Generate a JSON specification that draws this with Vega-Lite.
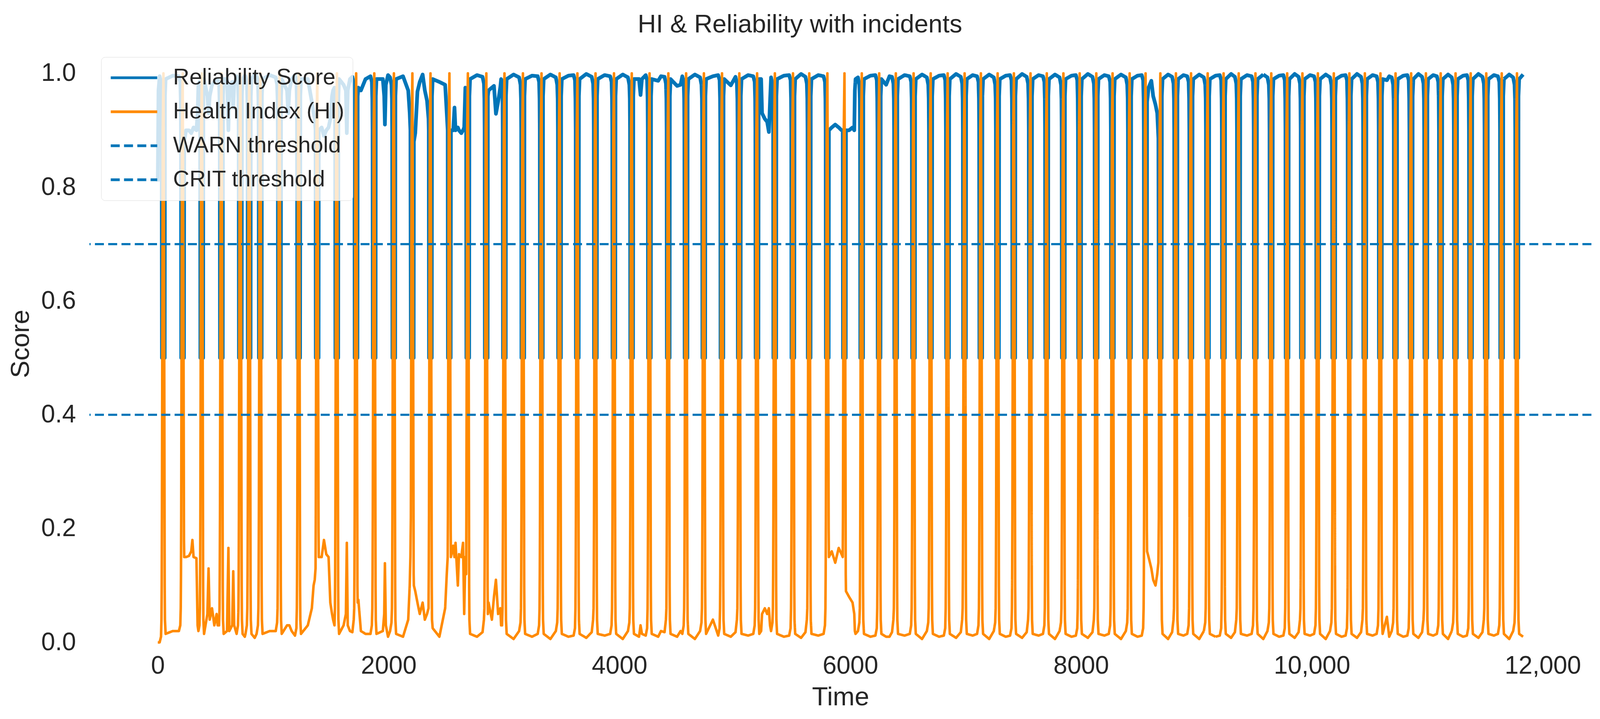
{
"$schema":"https://vega.github.io/schema/vega-lite/v6.json",
"width":4096,"height":1840,
"autosize":{"type":"fit","contains":"padding"},
"padding":{"left":19,"top":31,"right":19,"bottom":23},
"background":"white",
"title":{"text":"HI & Reliability with incidents","fontSize":65,"font":"Liberation Sans","fontWeight":"normal","color":"#262626","anchor":"middle","frame":"bounds","offset":18},
"config":{
"view":{"stroke":null},
"axis":{"grid":false,"ticks":false,"domain":false,"labelFont":"Liberation Sans","labelFontSize":64,"labelColor":"#262626","labelLimit":600,"titleFont":"Liberation Sans","titleFontSize":67,"titleFontWeight":"normal","titleColor":"#262626"},
"legend":{"orient":"none","legendX":30,"legendY":31,"title":null,"labelFont":"Liberation Sans","labelFontSize":58,"labelColor":"#262626","labelLimit":1200,"symbolType":"stroke","symbolSize":14161,"symbolStrokeWidth":7,"fillColor":"rgba(255,255,255,0.8)","strokeColor":"#dcdcdc","cornerRadius":10,"padding":21,"clipHeight":64,"rowPadding":23,"labelOffset":37,"symbolOpacity":1}
},
"data":{"values":[
{"t":0,"r":0.81,"h":0},{"t":6,"r":0.97,"h":0},{"t":16,"r":0.995,"h":0},{"t":28,"r":0.985,"h":0.01},{"t":32,"r":0.955,"h":0.04},{"t":34,"r":0.9,"h":0.1},{"t":36,"r":0.5,"h":0.22},{"t":43,"r":0.5,"h":0.9},{"t":49,"r":0.5,"h":1},{"t":54,"r":0.5,"h":0.7},{"t":60,"r":0.5,"h":0.1},{"t":62,"r":0.96,"h":0.04},{"t":68,"r":0.99,"h":0.015},{"t":130,"r":0.996,"h":0.02},
{"t":183,"r":0.995,"h":0.02},{"t":195,"r":0.985,"h":0.03},{"t":199,"r":0.955,"h":0.06},{"t":201,"r":0.9,"h":0.12},{"t":203,"r":0.5,"h":0.22},{"t":210,"r":0.5,"h":0.9},{"t":216,"r":0.5,"h":1},{"t":221,"r":0.5,"h":0.7},{"t":227,"r":0.5,"h":0.18},{"t":229,"r":0.88,"h":0.15},{"t":245,"r":0.9,"h":0.15},{"t":270,"r":0.9,"h":0.152},{"t":290,"r":0.895,"h":0.16},{"t":300,"r":0.9,"h":0.18},{"t":310,"r":0.905,"h":0.15},{"t":335,"r":0.9,"h":0.148},{"t":345,"r":0.93,"h":0.03},{"t":352,"r":0.98,"h":0.02},{"t":361,"r":0.985,"h":0.03},{"t":365,"r":0.955,"h":0.06},{"t":367,"r":0.9,"h":0.12},
{"t":369,"r":0.5,"h":0.22},{"t":376,"r":0.5,"h":0.9},{"t":382,"r":0.5,"h":1},{"t":387,"r":0.5,"h":0.7},{"t":393,"r":0.5,"h":0.1},{"t":395,"r":0.96,"h":0.04},{"t":401,"r":0.99,"h":0.015},{"t":430,"r":0.96,"h":0.05},{"t":440,"r":0.93,"h":0.13},{"t":450,"r":0.96,"h":0.04},{"t":470,"r":0.98,"h":0.06},{"t":490,"r":0.985,"h":0.03},{"t":510,"r":0.99,"h":0.05},
{"t":519,"r":0.99,"h":0.03},{"t":531,"r":0.985,"h":0.03},{"t":535,"r":0.955,"h":0.06},{"t":537,"r":0.9,"h":0.12},{"t":539,"r":0.5,"h":0.22},{"t":546,"r":0.5,"h":0.9},{"t":552,"r":0.5,"h":1},{"t":557,"r":0.5,"h":0.7},{"t":563,"r":0.5,"h":0.1},{"t":565,"r":0.96,"h":0.04},{"t":571,"r":0.99,"h":0.015},{"t":600,"r":0.99,"h":0.02},{"t":612,"r":0.9,"h":0.166},{"t":620,"r":0.98,"h":0.02},{"t":645,"r":0.985,"h":0.03},{"t":654,"r":0.94,"h":0.125},{"t":662,"r":0.98,"h":0.03},
{"t":683,"r":0.995,"h":0.015},{"t":695,"r":0.985,"h":0.03},{"t":699,"r":0.955,"h":0.06},{"t":701,"r":0.9,"h":0.12},{"t":703,"r":0.5,"h":0.22},{"t":710,"r":0.5,"h":0.9},{"t":716,"r":0.5,"h":1},{"t":721,"r":0.5,"h":0.7},{"t":727,"r":0.5,"h":0.1},{"t":729,"r":0.96,"h":0.04},{"t":735,"r":0.99,"h":0.015},{"t":754,"r":0.996,"h":0.01},
{"t":760,"r":0.995,"h":0.015},{"t":772,"r":0.985,"h":0.03},{"t":776,"r":0.955,"h":0.06},{"t":778,"r":0.9,"h":0.12},{"t":780,"r":0.5,"h":0.22},{"t":787,"r":0.5,"h":0.9},{"t":793,"r":0.5,"h":1},{"t":798,"r":0.5,"h":0.7},{"t":804,"r":0.5,"h":0.1},{"t":806,"r":0.96,"h":0.04},{"t":812,"r":0.99,"h":0.015},{"t":840,"r":0.998,"h":0.008},
{"t":856,"r":0.995,"h":0.015},{"t":868,"r":0.985,"h":0.03},{"t":872,"r":0.955,"h":0.06},{"t":874,"r":0.9,"h":0.12},{"t":876,"r":0.5,"h":0.22},{"t":883,"r":0.5,"h":0.9},{"t":889,"r":0.5,"h":1},{"t":894,"r":0.5,"h":0.7},{"t":900,"r":0.5,"h":0.1},{"t":902,"r":0.96,"h":0.04},{"t":908,"r":0.99,"h":0.015},{"t":970,"r":0.997,"h":0.02},
{"t":1022,"r":0.993,"h":0.02},{"t":1034,"r":0.98,"h":0.035},{"t":1038,"r":0.955,"h":0.06},{"t":1040,"r":0.9,"h":0.12},{"t":1042,"r":0.5,"h":0.22},{"t":1049,"r":0.5,"h":0.9},{"t":1055,"r":0.5,"h":1},{"t":1060,"r":0.5,"h":0.7},{"t":1066,"r":0.5,"h":0.1},{"t":1068,"r":0.96,"h":0.04},{"t":1074,"r":0.99,"h":0.015},{"t":1120,"r":0.97,"h":0.03},{"t":1130,"r":0.93,"h":0.03},{"t":1140,"r":0.97,"h":0.03},{"t":1160,"r":0.99,"h":0.02},
{"t":1189,"r":0.997,"h":0.012},{"t":1201,"r":0.988,"h":0.025},{"t":1205,"r":0.955,"h":0.06},{"t":1207,"r":0.9,"h":0.12},{"t":1209,"r":0.5,"h":0.22},{"t":1216,"r":0.5,"h":0.9},{"t":1222,"r":0.5,"h":1},{"t":1227,"r":0.5,"h":0.7},{"t":1233,"r":0.5,"h":0.1},{"t":1235,"r":0.96,"h":0.04},{"t":1241,"r":0.99,"h":0.015},{"t":1300,"r":0.99,"h":0.03},{"t":1335,"r":0.95,"h":0.06},{"t":1350,"r":0.93,"h":0.1},
{"t":1360,"r":0.92,"h":0.11},{"t":1367,"r":0.9,"h":0.13},{"t":1369,"r":0.5,"h":0.22},{"t":1376,"r":0.5,"h":0.9},{"t":1382,"r":0.5,"h":1},{"t":1387,"r":0.5,"h":0.7},{"t":1393,"r":0.5,"h":0.2},{"t":1395,"r":0.9,"h":0.15},{"t":1420,"r":0.905,"h":0.15},{"t":1440,"r":0.89,"h":0.18},{"t":1460,"r":0.9,"h":0.155},{"t":1480,"r":0.905,"h":0.15},{"t":1495,"r":0.92,"h":0.07},{"t":1510,"r":0.96,"h":0.05},
{"t":1519,"r":0.97,"h":0.04},{"t":1531,"r":0.975,"h":0.03},{"t":1535,"r":0.955,"h":0.06},{"t":1537,"r":0.9,"h":0.12},{"t":1539,"r":0.5,"h":0.22},{"t":1546,"r":0.5,"h":0.9},{"t":1552,"r":0.5,"h":1},{"t":1557,"r":0.5,"h":0.7},{"t":1563,"r":0.5,"h":0.1},{"t":1565,"r":0.96,"h":0.04},{"t":1571,"r":0.99,"h":0.015},{"t":1610,"r":0.98,"h":0.03},{"t":1630,"r":0.97,"h":0.05},{"t":1638,"r":0.895,"h":0.175},{"t":1646,"r":0.97,"h":0.03},{"t":1665,"r":0.99,"h":0.02},
{"t":1686,"r":0.994,"h":0.018},{"t":1698,"r":0.982,"h":0.04},{"t":1702,"r":0.955,"h":0.06},{"t":1704,"r":0.9,"h":0.12},{"t":1706,"r":0.5,"h":0.22},{"t":1713,"r":0.5,"h":0.9},{"t":1719,"r":0.5,"h":1},{"t":1724,"r":0.5,"h":0.7},{"t":1730,"r":0.5,"h":0.1},{"t":1732,"r":0.96,"h":0.07},{"t":1738,"r":0.975,"h":0.075},{"t":1760,"r":0.97,"h":0.02},{"t":1800,"r":0.99,"h":0.015},
{"t":1843,"r":0.995,"h":0.015},{"t":1855,"r":0.985,"h":0.03},{"t":1859,"r":0.955,"h":0.06},{"t":1861,"r":0.9,"h":0.12},{"t":1863,"r":0.5,"h":0.22},{"t":1870,"r":0.5,"h":0.9},{"t":1876,"r":0.5,"h":1},{"t":1881,"r":0.5,"h":0.7},{"t":1887,"r":0.5,"h":0.1},{"t":1889,"r":0.96,"h":0.04},{"t":1895,"r":0.99,"h":0.015},{"t":1950,"r":0.99,"h":0.02},{"t":1962,"r":0.96,"h":0.05},{"t":1968,"r":0.91,"h":0.139},{"t":1976,"r":0.98,"h":0.03},{"t":1995,"r":0.997,"h":0.01},
{"t":2013,"r":0.993,"h":0.02},{"t":2025,"r":0.98,"h":0.035},{"t":2029,"r":0.955,"h":0.06},{"t":2031,"r":0.9,"h":0.12},{"t":2033,"r":0.5,"h":0.22},{"t":2040,"r":0.5,"h":0.9},{"t":2046,"r":0.5,"h":1},{"t":2051,"r":0.5,"h":0.7},{"t":2057,"r":0.5,"h":0.1},{"t":2059,"r":0.96,"h":0.04},{"t":2065,"r":0.99,"h":0.015},{"t":2125,"r":0.995,"h":0.01},{"t":2170,"r":0.97,"h":0.04},{"t":2183,"r":0.93,"h":0.1},
{"t":2189,"r":0.9,"h":0.15},{"t":2193,"r":0.5,"h":0.22},{"t":2200,"r":0.5,"h":0.9},{"t":2206,"r":0.5,"h":1},{"t":2211,"r":0.5,"h":0.7},{"t":2217,"r":0.5,"h":0.12},{"t":2219,"r":0.88,"h":0.1},{"t":2231,"r":0.895,"h":0.09},{"t":2250,"r":0.968,"h":0.07},{"t":2270,"r":0.985,"h":0.05},{"t":2295,"r":0.998,"h":0.07},{"t":2314,"r":0.97,"h":0.04},{"t":2333,"r":0.952,"h":0.05},{"t":2346,"r":0.92,"h":0.06},{"t":2348,"r":0.9,"h":0.12},
{"t":2350,"r":0.5,"h":0.22},{"t":2357,"r":0.5,"h":0.9},{"t":2363,"r":0.5,"h":1},{"t":2368,"r":0.5,"h":0.7},{"t":2374,"r":0.5,"h":0.1},{"t":2376,"r":0.96,"h":0.04},{"t":2382,"r":0.99,"h":0.025},{"t":2440,"r":0.985,"h":0.01},{"t":2490,"r":0.98,"h":0.06},{"t":2504,"r":0.93,"h":0.12},{"t":2512,"r":0.9,"h":0.15},
{"t":2514,"r":0.5,"h":0.22},{"t":2521,"r":0.5,"h":0.9},{"t":2527,"r":0.5,"h":1},{"t":2532,"r":0.5,"h":0.7},{"t":2538,"r":0.5,"h":0.2},{"t":2540,"r":0.9,"h":0.15},{"t":2560,"r":0.9,"h":0.17},{"t":2571,"r":0.94,"h":0.15},{"t":2580,"r":0.9,"h":0.175},{"t":2600,"r":0.905,"h":0.1},{"t":2610,"r":0.9,"h":0.155},{"t":2630,"r":0.895,"h":0.15},{"t":2645,"r":0.9,"h":0.175},{"t":2655,"r":0.905,"h":0.05},{"t":2665,"r":0.975,"h":0.15},{"t":2672,"r":0.9,"h":0.12},
{"t":2674,"r":0.5,"h":0.22},{"t":2681,"r":0.5,"h":0.9},{"t":2687,"r":0.5,"h":1},{"t":2692,"r":0.5,"h":0.7},{"t":2698,"r":0.5,"h":0.1},{"t":2700,"r":0.96,"h":0.04},{"t":2706,"r":0.99,"h":0.015},{"t":2766,"r":0.997,"h":0.01},
{"t":2814,"r":0.994,"h":0.018},{"t":2826,"r":0.982,"h":0.04},{"t":2830,"r":0.955,"h":0.06},{"t":2832,"r":0.9,"h":0.12},{"t":2834,"r":0.5,"h":0.22},{"t":2841,"r":0.5,"h":0.9},{"t":2847,"r":0.5,"h":1},{"t":2852,"r":0.5,"h":0.7},{"t":2858,"r":0.5,"h":0.1},{"t":2860,"r":0.96,"h":0.05},{"t":2866,"r":0.97,"h":0.07},{"t":2895,"r":0.975,"h":0.04},{"t":2913,"r":0.978,"h":0.08},{"t":2930,"r":0.929,"h":0.11},{"t":2949,"r":0.95,"h":0.05},{"t":2968,"r":0.976,"h":0.06},
{"t":2975,"r":0.99,"h":0.03},{"t":2983,"r":0.985,"h":0.03},{"t":2987,"r":0.955,"h":0.06},{"t":2989,"r":0.9,"h":0.12},{"t":2991,"r":0.5,"h":0.22},{"t":2998,"r":0.5,"h":0.9},{"t":3004,"r":0.5,"h":1},{"t":3009,"r":0.5,"h":0.7},{"t":3015,"r":0.5,"h":0.1},{"t":3017,"r":0.96,"h":0.04},{"t":3023,"r":0.99,"h":0.015},{"t":3083,"r":0.998,"h":0.006},
{"t":3131,"r":0.993,"h":0.02},{"t":3143,"r":0.98,"h":0.035},{"t":3147,"r":0.955,"h":0.06},{"t":3149,"r":0.9,"h":0.12},{"t":3151,"r":0.5,"h":0.22},{"t":3158,"r":0.5,"h":0.9},{"t":3164,"r":0.5,"h":1},{"t":3169,"r":0.5,"h":0.7},{"t":3175,"r":0.5,"h":0.1},{"t":3177,"r":0.96,"h":0.04},{"t":3183,"r":0.99,"h":0.015},{"t":3243,"r":0.996,"h":0.01},
{"t":3292,"r":0.995,"h":0.015},{"t":3304,"r":0.985,"h":0.03},{"t":3308,"r":0.955,"h":0.06},{"t":3310,"r":0.9,"h":0.12},{"t":3312,"r":0.5,"h":0.22},{"t":3319,"r":0.5,"h":0.9},{"t":3325,"r":0.5,"h":1},{"t":3330,"r":0.5,"h":0.7},{"t":3336,"r":0.5,"h":0.1},{"t":3338,"r":0.96,"h":0.04},{"t":3344,"r":0.99,"h":0.015},{"t":3402,"r":0.998,"h":0.006},
{"t":3449,"r":0.993,"h":0.02},{"t":3461,"r":0.98,"h":0.035},{"t":3465,"r":0.955,"h":0.06},{"t":3467,"r":0.9,"h":0.12},{"t":3469,"r":0.5,"h":0.22},{"t":3476,"r":0.5,"h":0.9},{"t":3482,"r":0.5,"h":1},{"t":3487,"r":0.5,"h":0.7},{"t":3493,"r":0.5,"h":0.1},{"t":3495,"r":0.96,"h":0.04},{"t":3501,"r":0.99,"h":0.015},{"t":3558,"r":0.996,"h":0.01},
{"t":3603,"r":0.997,"h":0.012},{"t":3615,"r":0.988,"h":0.025},{"t":3619,"r":0.955,"h":0.06},{"t":3621,"r":0.9,"h":0.12},{"t":3623,"r":0.5,"h":0.22},{"t":3630,"r":0.5,"h":0.9},{"t":3636,"r":0.5,"h":1},{"t":3641,"r":0.5,"h":0.7},{"t":3647,"r":0.5,"h":0.1},{"t":3649,"r":0.96,"h":0.04},{"t":3655,"r":0.99,"h":0.015},{"t":3713,"r":0.999,"h":0.008},
{"t":3760,"r":0.994,"h":0.018},{"t":3772,"r":0.982,"h":0.04},{"t":3776,"r":0.955,"h":0.06},{"t":3778,"r":0.9,"h":0.12},{"t":3780,"r":0.5,"h":0.22},{"t":3787,"r":0.5,"h":0.9},{"t":3793,"r":0.5,"h":1},{"t":3798,"r":0.5,"h":0.7},{"t":3804,"r":0.5,"h":0.1},{"t":3806,"r":0.96,"h":0.04},{"t":3812,"r":0.99,"h":0.015},{"t":3872,"r":0.997,"h":0.012},
{"t":3920,"r":0.995,"h":0.015},{"t":3932,"r":0.985,"h":0.03},{"t":3936,"r":0.955,"h":0.06},{"t":3938,"r":0.9,"h":0.12},{"t":3940,"r":0.5,"h":0.22},{"t":3947,"r":0.5,"h":0.9},{"t":3953,"r":0.5,"h":1},{"t":3958,"r":0.5,"h":0.7},{"t":3964,"r":0.5,"h":0.1},{"t":3966,"r":0.96,"h":0.04},{"t":3972,"r":0.99,"h":0.015},{"t":4029,"r":0.998,"h":0.006},
{"t":4074,"r":0.993,"h":0.02},{"t":4086,"r":0.98,"h":0.035},{"t":4090,"r":0.955,"h":0.06},{"t":4092,"r":0.9,"h":0.12},{"t":4094,"r":0.5,"h":0.22},{"t":4101,"r":0.5,"h":0.9},{"t":4107,"r":0.5,"h":1},{"t":4112,"r":0.5,"h":0.7},{"t":4118,"r":0.5,"h":0.1},{"t":4120,"r":0.96,"h":0.04},{"t":4126,"r":0.99,"h":0.015},{"t":4170,"r":0.99,"h":0.01},{"t":4183,"r":0.962,"h":0.03},{"t":4195,"r":0.99,"h":0.015},
{"t":4228,"r":0.997,"h":0.012},{"t":4240,"r":0.988,"h":0.025},{"t":4244,"r":0.955,"h":0.06},{"t":4246,"r":0.9,"h":0.12},{"t":4248,"r":0.5,"h":0.22},{"t":4255,"r":0.5,"h":0.9},{"t":4261,"r":0.5,"h":1},{"t":4266,"r":0.5,"h":0.7},{"t":4272,"r":0.5,"h":0.1},{"t":4274,"r":0.96,"h":0.04},{"t":4280,"r":0.99,"h":0.015},{"t":4336,"r":0.987,"h":0.01},{"t":4360,"r":0.995,"h":0.02},
{"t":4391,"r":0.994,"h":0.018},{"t":4403,"r":0.982,"h":0.04},{"t":4407,"r":0.955,"h":0.06},{"t":4409,"r":0.9,"h":0.12},{"t":4411,"r":0.5,"h":0.22},{"t":4418,"r":0.5,"h":0.9},{"t":4424,"r":0.5,"h":1},{"t":4429,"r":0.5,"h":0.7},{"t":4435,"r":0.5,"h":0.1},{"t":4437,"r":0.96,"h":0.04},{"t":4443,"r":0.99,"h":0.015},{"t":4500,"r":0.978,"h":0.01},{"t":4530,"r":0.98,"h":0.02},
{"t":4545,"r":0.995,"h":0.015},{"t":4557,"r":0.985,"h":0.03},{"t":4561,"r":0.955,"h":0.06},{"t":4563,"r":0.9,"h":0.12},{"t":4565,"r":0.5,"h":0.22},{"t":4572,"r":0.5,"h":0.9},{"t":4578,"r":0.5,"h":1},{"t":4583,"r":0.5,"h":0.7},{"t":4589,"r":0.5,"h":0.1},{"t":4591,"r":0.96,"h":0.04},{"t":4597,"r":0.99,"h":0.015},{"t":4654,"r":0.998,"h":0.006},
{"t":4699,"r":0.993,"h":0.02},{"t":4711,"r":0.98,"h":0.035},{"t":4715,"r":0.955,"h":0.06},{"t":4717,"r":0.9,"h":0.12},{"t":4719,"r":0.5,"h":0.22},{"t":4726,"r":0.5,"h":0.9},{"t":4732,"r":0.5,"h":1},{"t":4737,"r":0.5,"h":0.7},{"t":4743,"r":0.5,"h":0.1},{"t":4745,"r":0.96,"h":0.04},{"t":4751,"r":0.99,"h":0.015},{"t":4810,"r":0.995,"h":0.04},
{"t":4856,"r":0.997,"h":0.012},{"t":4868,"r":0.988,"h":0.025},{"t":4872,"r":0.955,"h":0.06},{"t":4874,"r":0.9,"h":0.12},{"t":4876,"r":0.5,"h":0.22},{"t":4883,"r":0.5,"h":0.9},{"t":4889,"r":0.5,"h":1},{"t":4894,"r":0.5,"h":0.7},{"t":4900,"r":0.5,"h":0.1},{"t":4902,"r":0.96,"h":0.04},{"t":4908,"r":0.99,"h":0.015},{"t":4965,"r":0.979,"h":0.01},
{"t":5006,"r":0.994,"h":0.018},{"t":5018,"r":0.982,"h":0.04},{"t":5022,"r":0.955,"h":0.06},{"t":5024,"r":0.9,"h":0.12},{"t":5026,"r":0.5,"h":0.22},{"t":5033,"r":0.5,"h":0.9},{"t":5039,"r":0.5,"h":1},{"t":5044,"r":0.5,"h":0.7},{"t":5050,"r":0.5,"h":0.1},{"t":5052,"r":0.96,"h":0.04},{"t":5058,"r":0.99,"h":0.015},{"t":5115,"r":0.997,"h":0.012},
{"t":5160,"r":0.995,"h":0.015},{"t":5172,"r":0.985,"h":0.03},{"t":5176,"r":0.955,"h":0.06},{"t":5178,"r":0.9,"h":0.12},{"t":5180,"r":0.5,"h":0.22},{"t":5187,"r":0.5,"h":0.9},{"t":5193,"r":0.5,"h":1},{"t":5198,"r":0.5,"h":0.7},{"t":5204,"r":0.5,"h":0.1},{"t":5206,"r":0.96,"h":0.04},{"t":5212,"r":0.99,"h":0.015},{"t":5228,"r":0.99,"h":0.02},{"t":5236,"r":0.93,"h":0.05},{"t":5260,"r":0.92,"h":0.06},{"t":5280,"r":0.915,"h":0.05},{"t":5295,"r":0.897,"h":0.06},{"t":5305,"r":0.95,"h":0.03},
{"t":5314,"r":0.993,"h":0.02},{"t":5326,"r":0.98,"h":0.035},{"t":5330,"r":0.955,"h":0.06},{"t":5332,"r":0.9,"h":0.12},{"t":5334,"r":0.5,"h":0.22},{"t":5341,"r":0.5,"h":0.9},{"t":5347,"r":0.5,"h":1},{"t":5352,"r":0.5,"h":0.7},{"t":5358,"r":0.5,"h":0.1},{"t":5360,"r":0.96,"h":0.04},{"t":5366,"r":0.99,"h":0.015},{"t":5425,"r":0.996,"h":0.01},
{"t":5471,"r":0.997,"h":0.012},{"t":5483,"r":0.988,"h":0.025},{"t":5487,"r":0.955,"h":0.06},{"t":5489,"r":0.9,"h":0.12},{"t":5491,"r":0.5,"h":0.22},{"t":5498,"r":0.5,"h":0.9},{"t":5504,"r":0.5,"h":1},{"t":5509,"r":0.5,"h":0.7},{"t":5515,"r":0.5,"h":0.1},{"t":5517,"r":0.96,"h":0.04},{"t":5523,"r":0.99,"h":0.015},{"t":5574,"r":0.999,"h":0.008},
{"t":5612,"r":0.994,"h":0.018},{"t":5624,"r":0.982,"h":0.04},{"t":5628,"r":0.955,"h":0.06},{"t":5630,"r":0.9,"h":0.12},{"t":5632,"r":0.5,"h":0.22},{"t":5639,"r":0.5,"h":0.9},{"t":5645,"r":0.5,"h":1},{"t":5650,"r":0.5,"h":0.7},{"t":5656,"r":0.5,"h":0.1},{"t":5658,"r":0.96,"h":0.04},{"t":5664,"r":0.99,"h":0.015},{"t":5723,"r":0.997,"h":0.012},
{"t":5769,"r":0.995,"h":0.015},{"t":5781,"r":0.985,"h":0.03},{"t":5785,"r":0.955,"h":0.06},{"t":5787,"r":0.9,"h":0.12},{"t":5789,"r":0.5,"h":0.22},{"t":5796,"r":0.5,"h":0.9},{"t":5802,"r":0.5,"h":1},{"t":5807,"r":0.5,"h":0.7},{"t":5813,"r":0.5,"h":0.2},{"t":5815,"r":0.9,"h":0.15},{"t":5840,"r":0.905,"h":0.16},{"t":5870,"r":0.91,"h":0.14},{"t":5900,"r":0.905,"h":0.166},{"t":5925,"r":0.9,"h":0.155},{"t":5935,"r":0.9,"h":0.15},
{"t":5937,"r":0.5,"h":0.22},{"t":5944,"r":0.5,"h":0.9},{"t":5950,"r":0.5,"h":1},{"t":5955,"r":0.5,"h":0.7},{"t":5961,"r":0.5,"h":0.12},{"t":5963,"r":0.9,"h":0.09},{"t":5990,"r":0.9,"h":0.08},{"t":6020,"r":0.905,"h":0.07},{"t":6035,"r":0.9,"h":0.05},{"t":6040,"r":0.97,"h":0.02},{"t":6046,"r":0.99,"h":0.015},
{"t":6067,"r":0.993,"h":0.02},{"t":6079,"r":0.98,"h":0.035},{"t":6083,"r":0.955,"h":0.06},{"t":6085,"r":0.9,"h":0.12},{"t":6087,"r":0.5,"h":0.22},{"t":6094,"r":0.5,"h":0.9},{"t":6100,"r":0.5,"h":1},{"t":6105,"r":0.5,"h":0.7},{"t":6111,"r":0.5,"h":0.1},{"t":6113,"r":0.96,"h":0.04},{"t":6119,"r":0.99,"h":0.015},{"t":6175,"r":0.996,"h":0.01},
{"t":6218,"r":0.997,"h":0.012},{"t":6230,"r":0.988,"h":0.025},{"t":6234,"r":0.955,"h":0.06},{"t":6236,"r":0.9,"h":0.12},{"t":6238,"r":0.5,"h":0.22},{"t":6245,"r":0.5,"h":0.9},{"t":6251,"r":0.5,"h":1},{"t":6256,"r":0.5,"h":0.7},{"t":6262,"r":0.5,"h":0.1},{"t":6264,"r":0.96,"h":0.04},{"t":6270,"r":0.99,"h":0.015},{"t":6311,"r":0.98,"h":0.01},{"t":6340,"r":0.995,"h":0.01},
{"t":6362,"r":0.994,"h":0.018},{"t":6374,"r":0.982,"h":0.04},{"t":6378,"r":0.955,"h":0.06},{"t":6380,"r":0.9,"h":0.12},{"t":6382,"r":0.5,"h":0.22},{"t":6389,"r":0.5,"h":0.9},{"t":6395,"r":0.5,"h":1},{"t":6400,"r":0.5,"h":0.7},{"t":6406,"r":0.5,"h":0.1},{"t":6408,"r":0.96,"h":0.04},{"t":6414,"r":0.99,"h":0.015},{"t":6471,"r":0.997,"h":0.012},
{"t":6516,"r":0.995,"h":0.015},{"t":6528,"r":0.985,"h":0.03},{"t":6532,"r":0.955,"h":0.06},{"t":6534,"r":0.9,"h":0.12},{"t":6536,"r":0.5,"h":0.22},{"t":6543,"r":0.5,"h":0.9},{"t":6549,"r":0.5,"h":1},{"t":6554,"r":0.5,"h":0.7},{"t":6560,"r":0.5,"h":0.1},{"t":6562,"r":0.96,"h":0.04},{"t":6568,"r":0.99,"h":0.015},{"t":6622,"r":0.998,"h":0.006},
{"t":6664,"r":0.993,"h":0.02},{"t":6676,"r":0.98,"h":0.035},{"t":6680,"r":0.955,"h":0.06},{"t":6682,"r":0.9,"h":0.12},{"t":6684,"r":0.5,"h":0.22},{"t":6691,"r":0.5,"h":0.9},{"t":6697,"r":0.5,"h":1},{"t":6702,"r":0.5,"h":0.7},{"t":6708,"r":0.5,"h":0.1},{"t":6710,"r":0.96,"h":0.04},{"t":6716,"r":0.99,"h":0.015},{"t":6770,"r":0.996,"h":0.01},
{"t":6811,"r":0.997,"h":0.012},{"t":6823,"r":0.988,"h":0.025},{"t":6827,"r":0.955,"h":0.06},{"t":6829,"r":0.9,"h":0.12},{"t":6831,"r":0.5,"h":0.22},{"t":6838,"r":0.5,"h":0.9},{"t":6844,"r":0.5,"h":1},{"t":6849,"r":0.5,"h":0.7},{"t":6855,"r":0.5,"h":0.1},{"t":6857,"r":0.96,"h":0.04},{"t":6863,"r":0.99,"h":0.015},{"t":6917,"r":0.999,"h":0.008},
{"t":6958,"r":0.994,"h":0.018},{"t":6970,"r":0.982,"h":0.04},{"t":6974,"r":0.955,"h":0.06},{"t":6976,"r":0.9,"h":0.12},{"t":6978,"r":0.5,"h":0.22},{"t":6985,"r":0.5,"h":0.9},{"t":6991,"r":0.5,"h":1},{"t":6996,"r":0.5,"h":0.7},{"t":7002,"r":0.5,"h":0.1},{"t":7004,"r":0.96,"h":0.04},{"t":7010,"r":0.99,"h":0.015},{"t":7061,"r":0.997,"h":0.012},
{"t":7099,"r":0.995,"h":0.015},{"t":7111,"r":0.985,"h":0.03},{"t":7115,"r":0.955,"h":0.06},{"t":7117,"r":0.9,"h":0.12},{"t":7119,"r":0.5,"h":0.22},{"t":7126,"r":0.5,"h":0.9},{"t":7132,"r":0.5,"h":1},{"t":7137,"r":0.5,"h":0.7},{"t":7143,"r":0.5,"h":0.1},{"t":7145,"r":0.96,"h":0.04},{"t":7151,"r":0.99,"h":0.015},{"t":7204,"r":0.998,"h":0.006},
{"t":7244,"r":0.993,"h":0.02},{"t":7256,"r":0.98,"h":0.035},{"t":7260,"r":0.955,"h":0.06},{"t":7262,"r":0.9,"h":0.12},{"t":7264,"r":0.5,"h":0.22},{"t":7271,"r":0.5,"h":0.9},{"t":7277,"r":0.5,"h":1},{"t":7282,"r":0.5,"h":0.7},{"t":7288,"r":0.5,"h":0.1},{"t":7290,"r":0.96,"h":0.04},{"t":7296,"r":0.99,"h":0.015},{"t":7347,"r":0.996,"h":0.01},
{"t":7385,"r":0.997,"h":0.012},{"t":7397,"r":0.988,"h":0.025},{"t":7401,"r":0.955,"h":0.06},{"t":7403,"r":0.9,"h":0.12},{"t":7405,"r":0.5,"h":0.22},{"t":7412,"r":0.5,"h":0.9},{"t":7418,"r":0.5,"h":1},{"t":7423,"r":0.5,"h":0.7},{"t":7429,"r":0.5,"h":0.1},{"t":7431,"r":0.96,"h":0.04},{"t":7437,"r":0.99,"h":0.015},{"t":7489,"r":0.999,"h":0.008},
{"t":7529,"r":0.994,"h":0.018},{"t":7541,"r":0.982,"h":0.04},{"t":7545,"r":0.955,"h":0.06},{"t":7547,"r":0.9,"h":0.12},{"t":7549,"r":0.5,"h":0.22},{"t":7556,"r":0.5,"h":0.9},{"t":7562,"r":0.5,"h":1},{"t":7567,"r":0.5,"h":0.7},{"t":7573,"r":0.5,"h":0.1},{"t":7575,"r":0.96,"h":0.04},{"t":7581,"r":0.99,"h":0.015},{"t":7632,"r":0.997,"h":0.012},
{"t":7670,"r":0.995,"h":0.015},{"t":7682,"r":0.985,"h":0.03},{"t":7686,"r":0.955,"h":0.06},{"t":7688,"r":0.9,"h":0.12},{"t":7690,"r":0.5,"h":0.22},{"t":7697,"r":0.5,"h":0.9},{"t":7703,"r":0.5,"h":1},{"t":7708,"r":0.5,"h":0.7},{"t":7714,"r":0.5,"h":0.1},{"t":7716,"r":0.96,"h":0.04},{"t":7722,"r":0.99,"h":0.015},{"t":7774,"r":0.998,"h":0.006},
{"t":7814,"r":0.993,"h":0.02},{"t":7826,"r":0.98,"h":0.035},{"t":7830,"r":0.955,"h":0.06},{"t":7832,"r":0.9,"h":0.12},{"t":7834,"r":0.5,"h":0.22},{"t":7841,"r":0.5,"h":0.9},{"t":7847,"r":0.5,"h":1},{"t":7852,"r":0.5,"h":0.7},{"t":7858,"r":0.5,"h":0.1},{"t":7860,"r":0.96,"h":0.04},{"t":7866,"r":0.99,"h":0.015},{"t":7917,"r":0.996,"h":0.01},
{"t":7955,"r":0.997,"h":0.012},{"t":7967,"r":0.988,"h":0.025},{"t":7971,"r":0.955,"h":0.06},{"t":7973,"r":0.9,"h":0.12},{"t":7975,"r":0.5,"h":0.22},{"t":7982,"r":0.5,"h":0.9},{"t":7988,"r":0.5,"h":1},{"t":7993,"r":0.5,"h":0.7},{"t":7999,"r":0.5,"h":0.1},{"t":8001,"r":0.96,"h":0.04},{"t":8007,"r":0.99,"h":0.015},{"t":8059,"r":0.999,"h":0.008},
{"t":8099,"r":0.994,"h":0.018},{"t":8111,"r":0.982,"h":0.04},{"t":8115,"r":0.955,"h":0.06},{"t":8117,"r":0.9,"h":0.12},{"t":8119,"r":0.5,"h":0.22},{"t":8126,"r":0.5,"h":0.9},{"t":8132,"r":0.5,"h":1},{"t":8137,"r":0.5,"h":0.7},{"t":8143,"r":0.5,"h":0.1},{"t":8145,"r":0.96,"h":0.04},{"t":8151,"r":0.99,"h":0.015},{"t":8202,"r":0.997,"h":0.012},
{"t":8240,"r":0.995,"h":0.015},{"t":8252,"r":0.985,"h":0.03},{"t":8256,"r":0.955,"h":0.06},{"t":8258,"r":0.9,"h":0.12},{"t":8260,"r":0.5,"h":0.22},{"t":8267,"r":0.5,"h":0.9},{"t":8273,"r":0.5,"h":1},{"t":8278,"r":0.5,"h":0.7},{"t":8284,"r":0.5,"h":0.1},{"t":8286,"r":0.96,"h":0.04},{"t":8292,"r":0.99,"h":0.015},{"t":8346,"r":0.998,"h":0.006},
{"t":8388,"r":0.993,"h":0.02},{"t":8400,"r":0.98,"h":0.035},{"t":8404,"r":0.955,"h":0.06},{"t":8406,"r":0.9,"h":0.12},{"t":8408,"r":0.5,"h":0.22},{"t":8415,"r":0.5,"h":0.9},{"t":8421,"r":0.5,"h":1},{"t":8426,"r":0.5,"h":0.7},{"t":8432,"r":0.5,"h":0.1},{"t":8434,"r":0.96,"h":0.04},{"t":8440,"r":0.99,"h":0.015},{"t":8489,"r":0.996,"h":0.01},
{"t":8526,"r":0.997,"h":0.012},{"t":8538,"r":0.988,"h":0.025},{"t":8542,"r":0.955,"h":0.06},{"t":8544,"r":0.9,"h":0.12},{"t":8546,"r":0.5,"h":0.22},{"t":8553,"r":0.5,"h":0.9},{"t":8559,"r":0.5,"h":1},{"t":8564,"r":0.5,"h":0.7},{"t":8570,"r":0.5,"h":0.2},{"t":8572,"r":0.95,"h":0.16},{"t":8585,"r":0.975,"h":0.15},{"t":8609,"r":0.987,"h":0.13},{"t":8625,"r":0.96,"h":0.11},{"t":8645,"r":0.945,"h":0.1},{"t":8660,"r":0.93,"h":0.12},{"t":8670,"r":0.886,"h":0.14},
{"t":8674,"r":0.5,"h":0.22},{"t":8681,"r":0.5,"h":0.9},{"t":8687,"r":0.5,"h":1},{"t":8692,"r":0.5,"h":0.7},{"t":8698,"r":0.5,"h":0.1},{"t":8700,"r":0.96,"h":0.04},{"t":8706,"r":0.99,"h":0.015},{"t":8754,"r":0.998,"h":0.006},
{"t":8789,"r":0.994,"h":0.018},{"t":8801,"r":0.982,"h":0.04},{"t":8805,"r":0.955,"h":0.06},{"t":8807,"r":0.9,"h":0.12},{"t":8809,"r":0.5,"h":0.22},{"t":8816,"r":0.5,"h":0.9},{"t":8822,"r":0.5,"h":1},{"t":8827,"r":0.5,"h":0.7},{"t":8833,"r":0.5,"h":0.1},{"t":8835,"r":0.96,"h":0.04},{"t":8841,"r":0.99,"h":0.015},{"t":8887,"r":0.997,"h":0.012},
{"t":8920,"r":0.995,"h":0.015},{"t":8932,"r":0.985,"h":0.03},{"t":8936,"r":0.955,"h":0.06},{"t":8938,"r":0.9,"h":0.12},{"t":8940,"r":0.5,"h":0.22},{"t":8947,"r":0.5,"h":0.9},{"t":8953,"r":0.5,"h":1},{"t":8958,"r":0.5,"h":0.7},{"t":8964,"r":0.5,"h":0.1},{"t":8966,"r":0.96,"h":0.04},{"t":8972,"r":0.99,"h":0.015},{"t":9024,"r":0.998,"h":0.006},
{"t":9064,"r":0.993,"h":0.02},{"t":9076,"r":0.98,"h":0.035},{"t":9080,"r":0.955,"h":0.06},{"t":9082,"r":0.9,"h":0.12},{"t":9084,"r":0.5,"h":0.22},{"t":9091,"r":0.5,"h":0.9},{"t":9097,"r":0.5,"h":1},{"t":9102,"r":0.5,"h":0.7},{"t":9108,"r":0.5,"h":0.1},{"t":9110,"r":0.96,"h":0.04},{"t":9116,"r":0.99,"h":0.015},{"t":9165,"r":0.996,"h":0.01},
{"t":9202,"r":0.997,"h":0.012},{"t":9214,"r":0.988,"h":0.025},{"t":9218,"r":0.955,"h":0.06},{"t":9220,"r":0.9,"h":0.12},{"t":9222,"r":0.5,"h":0.22},{"t":9229,"r":0.5,"h":0.9},{"t":9235,"r":0.5,"h":1},{"t":9240,"r":0.5,"h":0.7},{"t":9246,"r":0.5,"h":0.1},{"t":9248,"r":0.96,"h":0.04},{"t":9254,"r":0.99,"h":0.015},{"t":9300,"r":0.999,"h":0.008},
{"t":9333,"r":0.994,"h":0.018},{"t":9345,"r":0.982,"h":0.04},{"t":9349,"r":0.955,"h":0.06},{"t":9351,"r":0.9,"h":0.12},{"t":9353,"r":0.5,"h":0.22},{"t":9360,"r":0.5,"h":0.9},{"t":9366,"r":0.5,"h":1},{"t":9371,"r":0.5,"h":0.7},{"t":9377,"r":0.5,"h":0.1},{"t":9379,"r":0.96,"h":0.04},{"t":9385,"r":0.99,"h":0.015},{"t":9438,"r":0.997,"h":0.012},
{"t":9478,"r":0.995,"h":0.015},{"t":9490,"r":0.985,"h":0.03},{"t":9494,"r":0.955,"h":0.06},{"t":9496,"r":0.9,"h":0.12},{"t":9498,"r":0.5,"h":0.22},{"t":9505,"r":0.5,"h":0.9},{"t":9511,"r":0.5,"h":1},{"t":9516,"r":0.5,"h":0.7},{"t":9522,"r":0.5,"h":0.1},{"t":9524,"r":0.96,"h":0.04},{"t":9530,"r":0.99,"h":0.015},{"t":9579,"r":0.998,"h":0.006},
{"t":9615,"r":0.993,"h":0.02},{"t":9627,"r":0.98,"h":0.035},{"t":9631,"r":0.955,"h":0.06},{"t":9633,"r":0.9,"h":0.12},{"t":9635,"r":0.5,"h":0.22},{"t":9642,"r":0.5,"h":0.9},{"t":9648,"r":0.5,"h":1},{"t":9653,"r":0.5,"h":0.7},{"t":9659,"r":0.5,"h":0.1},{"t":9661,"r":0.96,"h":0.04},{"t":9667,"r":0.99,"h":0.015},{"t":9716,"r":0.996,"h":0.01},
{"t":9753,"r":0.997,"h":0.012},{"t":9765,"r":0.988,"h":0.025},{"t":9769,"r":0.955,"h":0.06},{"t":9771,"r":0.9,"h":0.12},{"t":9773,"r":0.5,"h":0.22},{"t":9780,"r":0.5,"h":0.9},{"t":9786,"r":0.5,"h":1},{"t":9791,"r":0.5,"h":0.7},{"t":9797,"r":0.5,"h":0.1},{"t":9799,"r":0.96,"h":0.04},{"t":9805,"r":0.99,"h":0.015},{"t":9851,"r":0.999,"h":0.008},
{"t":9885,"r":0.994,"h":0.018},{"t":9897,"r":0.982,"h":0.04},{"t":9901,"r":0.955,"h":0.06},{"t":9903,"r":0.9,"h":0.12},{"t":9905,"r":0.5,"h":0.22},{"t":9912,"r":0.5,"h":0.9},{"t":9918,"r":0.5,"h":1},{"t":9923,"r":0.5,"h":0.7},{"t":9929,"r":0.5,"h":0.1},{"t":9931,"r":0.96,"h":0.04},{"t":9937,"r":0.99,"h":0.015},{"t":9984,"r":0.997,"h":0.012},
{"t":10019,"r":0.995,"h":0.015},{"t":10031,"r":0.985,"h":0.03},{"t":10035,"r":0.955,"h":0.06},{"t":10037,"r":0.9,"h":0.12},{"t":10039,"r":0.5,"h":0.22},{"t":10046,"r":0.5,"h":0.9},{"t":10052,"r":0.5,"h":1},{"t":10057,"r":0.5,"h":0.7},{"t":10063,"r":0.5,"h":0.1},{"t":10065,"r":0.96,"h":0.04},{"t":10071,"r":0.99,"h":0.015},{"t":10120,"r":0.998,"h":0.006},
{"t":10157,"r":0.993,"h":0.02},{"t":10169,"r":0.98,"h":0.035},{"t":10173,"r":0.955,"h":0.06},{"t":10175,"r":0.9,"h":0.12},{"t":10177,"r":0.5,"h":0.22},{"t":10184,"r":0.5,"h":0.9},{"t":10190,"r":0.5,"h":1},{"t":10195,"r":0.5,"h":0.7},{"t":10201,"r":0.5,"h":0.1},{"t":10203,"r":0.96,"h":0.04},{"t":10209,"r":0.99,"h":0.015},{"t":10257,"r":0.996,"h":0.01},
{"t":10292,"r":0.997,"h":0.012},{"t":10304,"r":0.988,"h":0.025},{"t":10308,"r":0.955,"h":0.06},{"t":10310,"r":0.9,"h":0.12},{"t":10312,"r":0.5,"h":0.22},{"t":10319,"r":0.5,"h":0.9},{"t":10325,"r":0.5,"h":1},{"t":10330,"r":0.5,"h":0.7},{"t":10336,"r":0.5,"h":0.1},{"t":10338,"r":0.96,"h":0.04},{"t":10344,"r":0.99,"h":0.015},{"t":10391,"r":0.999,"h":0.008},
{"t":10426,"r":0.994,"h":0.018},{"t":10438,"r":0.982,"h":0.04},{"t":10442,"r":0.955,"h":0.06},{"t":10444,"r":0.9,"h":0.12},{"t":10446,"r":0.5,"h":0.22},{"t":10453,"r":0.5,"h":0.9},{"t":10459,"r":0.5,"h":1},{"t":10464,"r":0.5,"h":0.7},{"t":10470,"r":0.5,"h":0.1},{"t":10472,"r":0.96,"h":0.04},{"t":10478,"r":0.99,"h":0.015},{"t":10526,"r":0.997,"h":0.012},
{"t":10561,"r":0.995,"h":0.015},{"t":10573,"r":0.985,"h":0.03},{"t":10577,"r":0.955,"h":0.06},{"t":10579,"r":0.9,"h":0.12},{"t":10581,"r":0.5,"h":0.22},{"t":10588,"r":0.5,"h":0.9},{"t":10594,"r":0.5,"h":1},{"t":10599,"r":0.5,"h":0.7},{"t":10605,"r":0.5,"h":0.1},{"t":10607,"r":0.96,"h":0.04},{"t":10613,"r":0.99,"h":0.015},{"t":10650,"r":0.988,"h":0.045},{"t":10670,"r":0.995,"h":0.01},
{"t":10692,"r":0.993,"h":0.02},{"t":10704,"r":0.98,"h":0.035},{"t":10708,"r":0.955,"h":0.06},{"t":10710,"r":0.9,"h":0.12},{"t":10712,"r":0.5,"h":0.22},{"t":10719,"r":0.5,"h":0.9},{"t":10725,"r":0.5,"h":1},{"t":10730,"r":0.5,"h":0.7},{"t":10736,"r":0.5,"h":0.1},{"t":10738,"r":0.96,"h":0.04},{"t":10744,"r":0.99,"h":0.015},{"t":10792,"r":0.996,"h":0.01},
{"t":10827,"r":0.997,"h":0.012},{"t":10839,"r":0.988,"h":0.025},{"t":10843,"r":0.955,"h":0.06},{"t":10845,"r":0.9,"h":0.12},{"t":10847,"r":0.5,"h":0.22},{"t":10854,"r":0.5,"h":0.9},{"t":10860,"r":0.5,"h":1},{"t":10865,"r":0.5,"h":0.7},{"t":10871,"r":0.5,"h":0.1},{"t":10873,"r":0.96,"h":0.04},{"t":10879,"r":0.99,"h":0.015},{"t":10923,"r":0.999,"h":0.008},
{"t":10955,"r":0.994,"h":0.018},{"t":10967,"r":0.982,"h":0.04},{"t":10971,"r":0.955,"h":0.06},{"t":10973,"r":0.9,"h":0.12},{"t":10975,"r":0.5,"h":0.22},{"t":10982,"r":0.5,"h":0.9},{"t":10988,"r":0.5,"h":1},{"t":10993,"r":0.5,"h":0.7},{"t":10999,"r":0.5,"h":0.1},{"t":11001,"r":0.96,"h":0.04},{"t":11007,"r":0.99,"h":0.015},{"t":11051,"r":0.997,"h":0.012},
{"t":11083,"r":0.995,"h":0.015},{"t":11095,"r":0.985,"h":0.03},{"t":11099,"r":0.955,"h":0.06},{"t":11101,"r":0.9,"h":0.12},{"t":11103,"r":0.5,"h":0.22},{"t":11110,"r":0.5,"h":0.9},{"t":11116,"r":0.5,"h":1},{"t":11121,"r":0.5,"h":0.7},{"t":11127,"r":0.5,"h":0.1},{"t":11129,"r":0.96,"h":0.04},{"t":11135,"r":0.99,"h":0.015},{"t":11180,"r":0.998,"h":0.006},
{"t":11212,"r":0.993,"h":0.02},{"t":11224,"r":0.98,"h":0.035},{"t":11228,"r":0.955,"h":0.06},{"t":11230,"r":0.9,"h":0.12},{"t":11232,"r":0.5,"h":0.22},{"t":11239,"r":0.5,"h":0.9},{"t":11245,"r":0.5,"h":1},{"t":11250,"r":0.5,"h":0.7},{"t":11256,"r":0.5,"h":0.1},{"t":11258,"r":0.96,"h":0.04},{"t":11264,"r":0.99,"h":0.015},{"t":11310,"r":0.996,"h":0.01},
{"t":11343,"r":0.997,"h":0.012},{"t":11355,"r":0.988,"h":0.025},{"t":11359,"r":0.955,"h":0.06},{"t":11361,"r":0.9,"h":0.12},{"t":11363,"r":0.5,"h":0.22},{"t":11370,"r":0.5,"h":0.9},{"t":11376,"r":0.5,"h":1},{"t":11381,"r":0.5,"h":0.7},{"t":11387,"r":0.5,"h":0.1},{"t":11389,"r":0.96,"h":0.04},{"t":11395,"r":0.99,"h":0.015},{"t":11443,"r":0.999,"h":0.008},
{"t":11478,"r":0.994,"h":0.018},{"t":11490,"r":0.982,"h":0.04},{"t":11494,"r":0.955,"h":0.06},{"t":11496,"r":0.9,"h":0.12},{"t":11498,"r":0.5,"h":0.22},{"t":11505,"r":0.5,"h":0.9},{"t":11511,"r":0.5,"h":1},{"t":11516,"r":0.5,"h":0.7},{"t":11522,"r":0.5,"h":0.1},{"t":11524,"r":0.96,"h":0.04},{"t":11530,"r":0.99,"h":0.015},{"t":11577,"r":0.997,"h":0.012},
{"t":11612,"r":0.995,"h":0.015},{"t":11624,"r":0.985,"h":0.03},{"t":11628,"r":0.955,"h":0.06},{"t":11630,"r":0.9,"h":0.12},{"t":11632,"r":0.5,"h":0.22},{"t":11639,"r":0.5,"h":0.9},{"t":11645,"r":0.5,"h":1},{"t":11650,"r":0.5,"h":0.7},{"t":11656,"r":0.5,"h":0.1},{"t":11658,"r":0.96,"h":0.04},{"t":11664,"r":0.99,"h":0.015},{"t":11710,"r":0.998,"h":0.006},
{"t":11744,"r":0.993,"h":0.02},{"t":11756,"r":0.98,"h":0.035},{"t":11760,"r":0.955,"h":0.06},{"t":11762,"r":0.9,"h":0.12},{"t":11764,"r":0.5,"h":0.22},{"t":11771,"r":0.5,"h":0.9},{"t":11777,"r":0.5,"h":1},{"t":11782,"r":0.5,"h":0.7},{"t":11788,"r":0.5,"h":0.1},{"t":11790,"r":0.96,"h":0.04},{"t":11796,"r":0.99,"h":0.015},{"t":11830,"r":0.998,"h":0.01}
]},
"layer":[
{"mark":{"type":"line","strokeWidth":9.5,"strokeJoin":"round"},
"encoding":{
"x":{"field":"t","type":"quantitative","scale":{"domain":[-592,12422],"nice":false,"zero":false},"axis":{"values":[0,2000,4000,6000,8000,10000,12000],"labelExpr":"datum.value >= 10000 ? format(datum.value, ',') : format(datum.value, 'd')","labelPadding":28,"labelOverlap":false,"title":"Time","titlePadding":15,"labelFlush":false}},
"y":{"field":"r","type":"quantitative","scale":{"domain":[0,1.05],"nice":false,"zero":false},"axis":{"values":[0,0.2,0.4,0.6,0.8,1.0],"format":".1f","labelPadding":35,"title":"Score","titlePadding":18}},
"color":{"datum":"Reliability Score","type":"nominal","scale":{"domain":["Reliability Score","Health Index (HI)","WARN threshold","CRIT threshold"],"range":["#0075b8","#ff8a00","#0075b8","#0075b8"]}},
"strokeDash":{"datum":"Reliability Score","type":"nominal","scale":{"domain":["Reliability Score","Health Index (HI)","WARN threshold","CRIT threshold"],"range":[[1,0],[1,0],[23,11],[23,11]]}}
}},
{"mark":{"type":"line","strokeWidth":6.5,"strokeJoin":"round"},
"encoding":{
"x":{"field":"t","type":"quantitative"},
"y":{"field":"h","type":"quantitative","title":"Score"},
"color":{"datum":"Health Index (HI)","type":"nominal"},
"strokeDash":{"datum":"Health Index (HI)","type":"nominal"}
}},
{"data":{"values":[{}]},"mark":{"type":"rule","strokeWidth":5.5},
"encoding":{
"y":{"datum":0.7,"type":"quantitative"},
"color":{"datum":"WARN threshold","type":"nominal"},
"strokeDash":{"datum":"WARN threshold","type":"nominal"}
}},
{"data":{"values":[{}]},"mark":{"type":"rule","strokeWidth":5.5},
"encoding":{
"y":{"datum":0.4,"type":"quantitative"},
"color":{"datum":"CRIT threshold","type":"nominal"},
"strokeDash":{"datum":"CRIT threshold","type":"nominal"}
}}
]
}
